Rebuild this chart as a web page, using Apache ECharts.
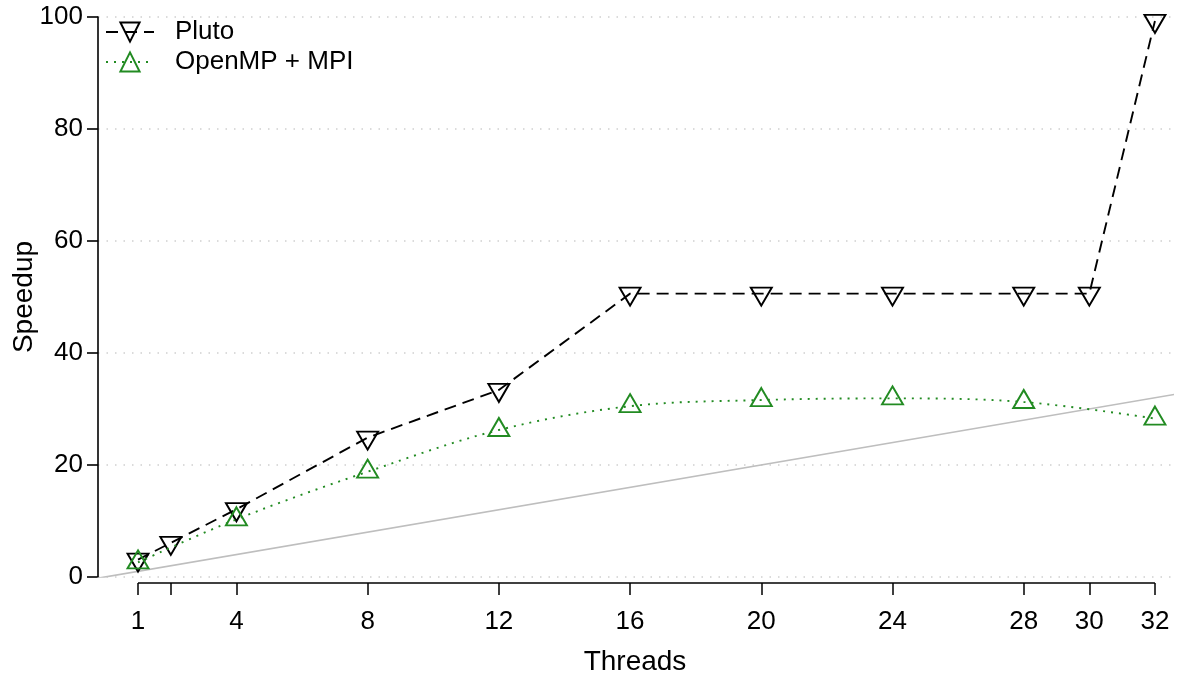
<!DOCTYPE html>
<html>
<head>
<meta charset="utf-8">
<script src="https://cdn.jsdelivr.net/npm/echarts@6/dist/echarts.min.js"></script>
<style>
html,body{margin:0;padding:0;background:#fff;}
#chart{width:1180px;height:677px;}
</style>
</head>
<body>
<div id="chart"></div>
<script>
// ---- data ----
var threadsPluto = [1, 2, 4, 8, 12, 16, 20, 24, 28, 30, 32];
var speedupPluto = [3.1, 6.1, 12.1, 24.9, 33.4, 50.6, 50.6, 50.6, 50.6, 50.6, 99.3];
var threadsMpi = [1, 4, 8, 12, 16, 20, 24, 28, 32];
var speedupMpi = [2.6, 10.3, 18.8, 26.25, 30.5, 31.6, 31.9, 31.25, 28.3];
var idealLine = [-1, 34];
var xTickValues = [1, 2, 4, 8, 12, 16, 20, 24, 28, 30, 32];
var xLabelValues = [1, 4, 8, 12, 16, 20, 24, 28, 30, 32];
var yTicks = [0, 20, 40, 60, 80, 100];

var FONT = '"Liberation Sans", Arial, Helvetica, sans-serif';
function pairs(xs, ys) { return xs.map(function (x, i) { return [x, ys[i]]; }); }

var chart = echarts.init(document.getElementById('chart'), null, {renderer: 'canvas'});
var option = {
  backgroundColor: '#fff',
  animation: false,
  textStyle: {fontFamily: FONT},
  grid: {left: 98, right: 8, top: 17, bottom: 100, containLabel: false, outerBoundsMode: 'none'},
  legend: {
    orient: 'vertical', left: 100, top: 14, itemWidth: 48, itemHeight: 24, itemGap: 4,
    textStyle: {fontFamily: FONT, fontSize: 26, color: '#000', padding: [0, 0, 0, 16]},
    data: ['Pluto', 'OpenMP + MPI']
  },
  xAxis: {
    type: 'value', min: -0.22, max: 32.52, offset: 6,
    name: 'Threads', nameLocation: 'middle', nameGap: 65,
    nameTextStyle: {fontFamily: FONT, fontSize: 28, color: '#000'},
    axisLine: {show: false, onZero: false},
    axisTick: {show: true, length: 12, customValues: xTickValues, lineStyle: {color: '#000', width: 1.5}},
    axisLabel: {customValues: xLabelValues, fontFamily: FONT, fontSize: 26, color: '#000', margin: 26},
    splitLine: {show: false}
  },
  yAxis: {
    type: 'value', min: 0, max: 100, interval: 20,
    name: 'Speedup', nameLocation: 'middle', nameGap: 60, nameMoveOverlap: false,
    nameTextStyle: {fontFamily: FONT, fontSize: 28, color: '#000'},
    axisLine: {show: true, onZero: false, lineStyle: {color: '#000', width: 1.6}},
    axisTick: {show: true, length: 11, lineStyle: {color: '#000', width: 1.6}},
    axisLabel: {fontFamily: FONT, fontSize: 26, color: '#000', margin: 15},
    splitLine: {show: true, lineStyle: {color: '#cfcfcf', width: 1.5, type: [1.5, 7]}}
  },
  series: [
    {
      name: 'ideal', type: 'line', data: pairs(idealLine, idealLine), symbol: 'none',
      lineStyle: {color: '#bebebe', width: 1.6}, silent: true, clip: true, z: 1
    },
    {
      name: 'Pluto', type: 'line', data: pairs(threadsPluto, speedupPluto),
      symbol: 'triangle', symbolSize: [21, 18], symbolRotate: 180, symbolOffset: [0, 3],
      itemStyle: {color: 'rgba(255,255,255,0)', borderColor: '#000', borderWidth: 1.9},
      lineStyle: {color: '#000', width: 1.9, type: [12, 7]}, z: 3
    },
    {
      name: 'OpenMP + MPI', type: 'line', data: pairs(threadsMpi, speedupMpi), smooth: 0.35,
      symbol: 'triangle', symbolSize: [21, 18], symbolOffset: [0, -3],
      itemStyle: {color: 'rgba(255,255,255,0)', borderColor: '#228B22', borderWidth: 1.9},
      lineStyle: {color: '#228B22', width: 1.9, type: [2, 6]}, z: 4
    }
  ]
};
chart.setOption(option);

// x axis line spanning only the first to last tick (R style)
var p0 = chart.convertToPixel({gridIndex: 0}, [xTickValues[0], 0]);
var p1 = chart.convertToPixel({gridIndex: 0}, [xTickValues[xTickValues.length - 1], 0]);
chart.setOption({
  graphic: [{
    type: 'line', shape: {x1: p0[0], y1: p0[1] + 6, x2: p1[0], y2: p1[1] + 6},
    style: {stroke: '#000', lineWidth: 1.6}, z: 10
  }]
});
</script>
</body>
</html>
